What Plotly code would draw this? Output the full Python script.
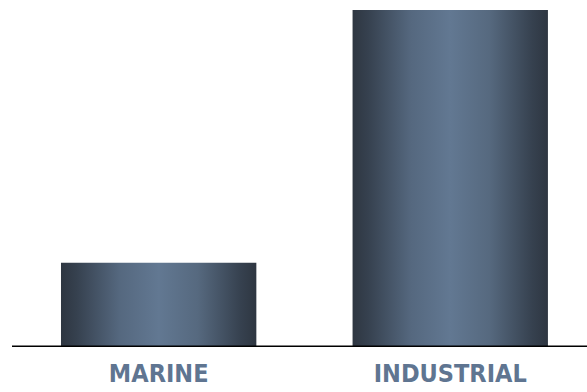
import plotly.graph_objects as go

categories = ["MARINE", "INDUSTRIAL"]
values = [25, 100]

bar_width = 0.67
edge_color = "#2e3641"
mid_color = "#627892"
label_color = "#5f7591"

fig = go.Figure()
for i, (cat, v) in enumerate(zip(categories, values)):
    x0, x1 = i - bar_width / 2, i + bar_width / 2
    fig.add_trace(go.Scatter(
        x=[x0, x1, x1, x0, x0], y=[0, 0, v, v, 0],
        mode="lines", line=dict(width=0), fill="toself",
        fillgradient=dict(type="horizontal", colorscale=[
            [0, edge_color], [0.08, "#36414f"], [0.3, "#55687f"], [0.5, mid_color],
            [0.7, "#56697f"], [0.92, "#36414f"], [1, edge_color]]),
        hoverinfo="skip", showlegend=False,
    ))

fig.update_layout(
    width=587, height=392,
    margin=dict(l=12, r=0, t=10, b=45),
    paper_bgcolor="white", plot_bgcolor="white",
    showlegend=False,
    xaxis=dict(range=[-0.503, 1.469], tickmode="array", tickvals=list(range(len(categories))),
               ticktext=categories, showgrid=False, zeroline=False, showline=False,
               automargin=False, ticks="", ticklabelstandoff=9,
               tickfont=dict(family="DejaVu Sans Condensed", size=25, color=label_color, weight="bold")),
    yaxis=dict(range=[0, 100], visible=False, showgrid=False, zeroline=False, automargin=False),
    shapes=[dict(type="line", xref="paper", yref="y", x0=0, x1=1, y0=0, y1=0,
                 line=dict(color="black", width=3), layer="above")],
)

fig.write_html("out.html", config={"displayModeBar": False},
               post_script="document.body.style.margin='0';")
